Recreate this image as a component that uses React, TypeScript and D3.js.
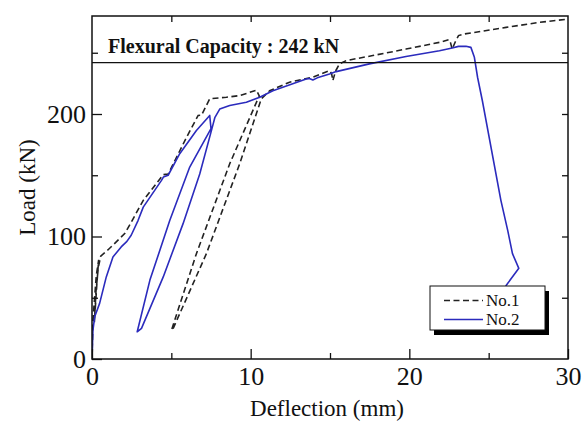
import React, { useEffect, useRef } from 'react';
import * as d3 from 'd3';

// deflection (mm), load (kN)
const no1Data: [number, number][] = [
  [0, 0], [0.06, 32], [0.17, 51], [0.27, 68], [0.42, 81], [0.3, 60], [0.15, 30],
  [0.25, 55], [0.4, 75], [0.55, 84], [1.0, 89], [1.64, 97], [2.06, 102.4],
  [2.4, 110], [3.23, 129.5], [4.49, 150.5], [4.8, 151], [5.96, 181], [6.69, 198.8],
  [6.9, 199], [7.42, 212.4], [8.47, 213.7], [9.31, 215], [10.36, 219.5], [10.55, 214.5],
  [10.46, 212.4], [8.68, 159.4], [6.58, 86], [5.01, 23.6], [5.1, 24.5], [7.21, 86],
  [9.31, 159.4], [10.67, 212.4], [11.2, 219], [12.45, 226], [13.92, 230], [14.97, 235.4],
  [15.1, 233], [15.18, 227.3], [15.35, 235], [15.6, 240.9], [16.02, 243.6], [17.7, 247.7],
  [19.79, 253], [21.9, 258.5], [22.5, 260.7], [22.6, 258], [22.7, 253], [22.9, 259],
  [23.1, 264], [23.46, 265.3], [26.1, 270.7], [28.2, 274.8], [30, 277.5]
];

const no2Data: [number, number][] = [
  [0, 0], [0.06, 23.6], [0.17, 34.5], [0.48, 45.4], [0.9, 67], [1.32, 83.3],
  [1.84, 91.5], [2.2, 96], [2.47, 101], [2.9, 113], [3.23, 124], [4.38, 145.8],
  [4.5, 148.5], [4.8, 150], [5.53, 167.6], [6.58, 186.6], [7.42, 198.8], [7.5, 188],
  [6.16, 156.7], [4.9, 113], [3.65, 64.4], [2.85, 22.2], [3.12, 25], [4.49, 67],
  [5.74, 110.5], [6.79, 151], [7.53, 186.6], [7.74, 197], [8.05, 204], [8.68, 207],
  [9.73, 209.6], [10.57, 213.7], [11.4, 219], [13.5, 228.6], [13.7, 229], [13.92, 227.8],
  [14.2, 229.5], [14.97, 232.7], [15.39, 234.6], [17.48, 240.9], [19.79, 247],
  [21.9, 251.7], [22.7, 253.9], [23.1, 255.2], [23.57, 255.3], [23.88, 254.4],
  [24.1, 246.3], [24.3, 230], [24.6, 211], [25.77, 129.5], [26.2, 105], [26.5, 86],
  [26.9, 74], [26.1, 60], [25.9, 52]
];

const seriesNames = ['No.1', 'No.2'];
const capacity = 242;
const xMajorTicks = [0, 10, 20, 30];
const xMinorTicks = [5, 15, 25];
const xTopTicks = [5, 10, 15, 20, 25];
const yMajorTicks = [0, 100, 200];
const yMinorTicks = [50, 150, 250];
const yRightTicks = [50, 100, 150, 200, 250];

export default function App() {
  const ref = useRef<SVGSVGElement>(null);

  useEffect(() => {
    const width = 587, height = 421;
    const margin = { top: 16, right: 19, bottom: 62, left: 92 };
    const serif = '"Liberation Serif", "Times New Roman", serif';
    const blue = '#2b2bbd';

    const svg = d3.select(ref.current);
    svg.selectAll('*').remove();

    const x = d3.scaleLinear().domain([0, 30]).range([margin.left, width - margin.right]);
    const y = d3.scaleLinear().domain([0, 280]).range([height - margin.bottom, margin.top]);

    svg.append('defs').append('clipPath').attr('id', 'plotclip')
      .append('rect')
      .attr('x', x(0)).attr('y', y(280))
      .attr('width', x(30) - x(0)).attr('height', y(0) - y(280));

    const line = d3.line<[number, number]>()
      .x(d => x(d[0]))
      .y(d => y(d[1]));

    const plot = svg.append('g').attr('clip-path', 'url(#plotclip)');

    plot.append('path')
      .datum(no1Data)
      .attr('d', line)
      .attr('fill', 'none')
      .attr('stroke', '#222')
      .attr('stroke-width', 1.6)
      .attr('stroke-dasharray', '6,3.5');

    plot.append('path')
      .datum(no2Data)
      .attr('d', line)
      .attr('fill', 'none')
      .attr('stroke', blue)
      .attr('stroke-width', 1.6)
      .attr('stroke-linejoin', 'round');

    // flexural capacity
    svg.append('line')
      .attr('x1', x(0)).attr('x2', x(30))
      .attr('y1', y(capacity)).attr('y2', y(capacity))
      .attr('stroke', '#111').attr('stroke-width', 1.3);

    svg.append('text')
      .attr('x', 108).attr('y', 53)
      .attr('font-family', serif)
      .attr('font-weight', 'bold')
      .attr('font-size', 20)
      .attr('fill', '#111')
      .text(`Flexural Capacity : ${capacity} kN`);

    // axes
    const styleAxis = (g: any) => {
      g.select('.domain').remove();
      g.selectAll('line').attr('stroke', '#111').attr('stroke-width', 1.3);
      g.selectAll('text').attr('font-family', serif).attr('font-size', 26).attr('fill', '#111');
    };

    svg.append('g')
      .attr('transform', `translate(0,${y(0)})`)
      .call(d3.axisBottom(x).tickValues(xMajorTicks).tickSize(-10).tickPadding(7.5).tickFormat(d3.format('d')))
      .call(styleAxis);
    svg.append('g')
      .attr('transform', `translate(0,${y(0)})`)
      .call(d3.axisBottom(x).tickValues(xMinorTicks).tickSize(-6).tickFormat(() => ''))
      .call(styleAxis);
    svg.append('g')
      .attr('transform', `translate(0,${y(280)})`)
      .call(d3.axisTop(x).tickValues(xTopTicks).tickSize(-6).tickFormat(() => ''))
      .call(styleAxis);

    svg.append('g')
      .attr('transform', `translate(${x(0)},0)`)
      .call(d3.axisLeft(y).tickValues(yMajorTicks).tickSize(-10).tickPadding(6).tickFormat(d3.format('d')))
      .call(styleAxis);
    svg.append('g')
      .attr('transform', `translate(${x(0)},0)`)
      .call(d3.axisLeft(y).tickValues(yMinorTicks).tickSize(-6).tickFormat(() => ''))
      .call(styleAxis);
    svg.append('g')
      .attr('transform', `translate(${x(30)},0)`)
      .call(d3.axisRight(y).tickValues(yRightTicks).tickSize(-6).tickFormat(() => ''))
      .call(styleAxis);

    // frame
    svg.append('rect')
      .attr('x', x(0)).attr('y', y(280))
      .attr('width', x(30) - x(0)).attr('height', y(0) - y(280))
      .attr('fill', 'none').attr('stroke', '#111').attr('stroke-width', 1.5);

    // axis titles
    svg.append('text')
      .attr('x', 327).attr('y', 416)
      .attr('text-anchor', 'middle')
      .attr('font-family', serif).attr('font-size', 23).attr('fill', '#111')
      .text('Deflection (mm)');

    svg.append('text')
      .attr('transform', `translate(35,${(y(0) + y(280)) / 2}) rotate(-90)`)
      .attr('text-anchor', 'middle')
      .attr('font-family', serif).attr('font-size', 23).attr('fill', '#111')
      .text('Load (kN)');

    // legend
    const lg = svg.append('g').attr('transform', 'translate(430,286)');
    lg.append('rect').attr('x', 4).attr('y', 5).attr('width', 115).attr('height', 44).attr('fill', '#000');
    lg.append('rect').attr('x', 0).attr('y', 0).attr('width', 115).attr('height', 44)
      .attr('fill', '#fff').attr('stroke', '#111').attr('stroke-width', 1);

    const entries = [
      { name: seriesNames[0], color: '#222', dash: '6,3.5', y: 14.5 },
      { name: seriesNames[1], color: blue, dash: null, y: 33.5 }
    ];
    entries.forEach(e => {
      lg.append('line')
        .attr('x1', 14).attr('x2', 53)
        .attr('y1', e.y).attr('y2', e.y)
        .attr('stroke', e.color).attr('stroke-width', 1.5)
        .attr('stroke-dasharray', e.dash);
      lg.append('text')
        .attr('x', 56).attr('y', e.y + 5)
        .attr('font-family', serif).attr('font-size', 17).attr('fill', '#111')
        .text(e.name);
    });
  }, []);

  return (
    <svg ref={ref} width={587} height={421}
      style={{ position: 'absolute', left: 0, top: 0, background: '#fff' }} />
  );
}
